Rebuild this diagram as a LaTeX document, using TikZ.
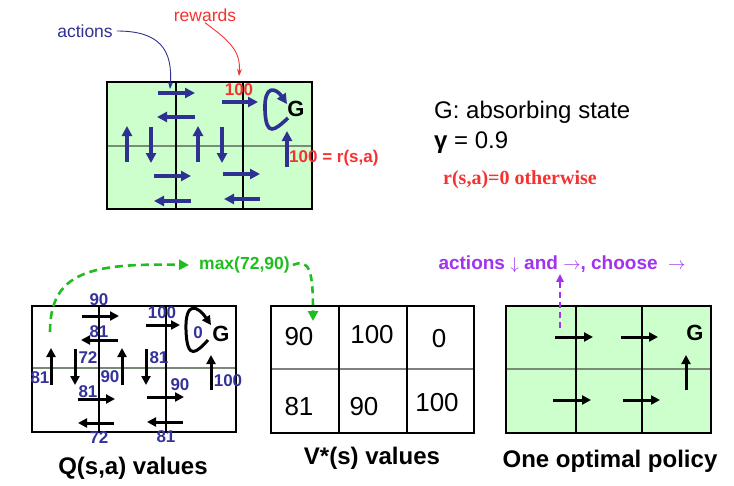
\documentclass[tikz,border=0pt]{standalone}
\usepackage{fontspec}
\setmainfont{Liberation Sans}
\newfontfamily\serifbf{Liberation Serif}
\usetikzlibrary{arrows.meta}
\definecolor{cellgreen}{RGB}{204,255,204}
\definecolor{actblue}{RGB}{46,49,146}
\definecolor{qblue}{RGB}{51,51,153}
\definecolor{rewred}{RGB}{245,50,50}
\definecolor{maxgreen}{RGB}{30,190,30}
\definecolor{actpurple}{RGB}{160,50,240}
\definecolor{midline}{RGB}{120,140,120}
\tikzset{
  fs/.style={font=\fontsize{#1}{#1}\selectfont},
  fsb/.style={font=\fontsize{#1}{#1}\selectfont\bfseries},
  barrow/.style={draw=actblue,line width=3.6pt,-{Triangle[length=10pt,width=10pt]}},
  karrow/.style={draw=black,line width=3pt,-{Triangle[length=9pt,width=9pt]}},
  gridline/.style={draw=black,line width=1.2pt},
  qlab/.style={fsb=17,text=qblue,inner sep=0pt},
  vval/.style={fs=26,inner sep=0pt},
  title/.style={fsb=24,inner sep=0pt},
}
\begin{document}
\begin{tikzpicture}[x=1pt,y=-1pt]
\useasboundingbox (0,0) rectangle (734,485);

% ---------- top grid ----------
\fill[cellgreen] (107,82) rectangle (312,209);
\draw[midline,line width=1.2pt] (107,146) -- (312,146);
\draw[gridline] (107,82) rectangle (312,209);
\draw[gridline] (176,82) -- (176,209) (243,82) -- (243,209);
\draw[barrow] (158,93) -- (195,93);
\draw[barrow] (195,117) -- (157,117);
\draw[barrow] (222,102) -- (258,102);
\draw[barrow] (127,162) -- (127,126);
\draw[barrow] (151,127) -- (151,163);
\draw[barrow] (198,162) -- (198,126);
\draw[barrow] (222,127) -- (222,163);
\draw[barrow] (287,167) -- (287,131);
\draw[barrow] (154,176) -- (191,176);
\draw[barrow] (223,174) -- (260,174);
\draw[barrow] (191,201) -- (154,201);
\draw[barrow] (260,199) -- (224,199);
\draw[barrow] (288,118) .. controls (275,130) and (266,138) .. (265,110)
  .. controls (264,84) and (276,88) .. (287,104);
\node[fsb=22,inner sep=0pt] (G1) at (296,109) {G};
\node[fsb=17,text=rewred,inner sep=0pt] (r100) at (239,90) {100};
\node[fsb=17,text=rewred,inner sep=0pt,anchor=west] (rsa) at (289,158) {100 = r(s,a)};

\node[fs=17.5,text=actblue,inner sep=1pt] (actions) at (85,31) {actions};
\coordinate (acttip) at (170,89);
\draw[actblue,line width=0.9pt,-{Stealth[length=7pt,width=5pt]}]
  ([xshift=3pt]actions.east) .. controls (160,31) and (173,50) .. (acttip);
\node[fs=17.5,text=rewred,inner sep=1pt] (rewards) at (205,15) {rewards};
\coordinate (rewtip) at (239,76);
\draw[rewred,line width=0.9pt,-{Stealth[length=7pt,width=5pt]}]
  (rewards.south) .. controls (228,40) and (241,50) .. (rewtip);

% ---------- right texts ----------
\node[fs=24,anchor=west,inner sep=0pt] (absorb) at (434,112) {G: absorbing state};
\node[fs=24,anchor=west,inner sep=0pt] (gamma) at (434,143) {\textbf{γ} = 0.9};
\node[font=\fontsize{20}{20}\selectfont\serifbf\bfseries,text=rewred,anchor=west,inner sep=0pt] (other) at (443,180) {r(s,a)=0 otherwise};

% ---------- Q grid ----------
\draw[midline!70!gray,line width=1.2pt] (32,368) -- (236,368);
\draw[gridline] (32,306) rectangle (236,432);
\draw[gridline] (99,306) -- (99,432) (166,306) -- (166,432);
\draw[karrow] (82,316) -- (119,316);
\draw[karrow] (118,340) -- (81,340);
\draw[karrow] (146,325) -- (180,325);
\draw[karrow] (51,385) -- (51,348);
\draw[karrow] (75,349) -- (75,385);
\draw[karrow] (122,385) -- (122,348);
\draw[karrow] (146,349) -- (146,385);
\draw[karrow] (211,390) -- (211,355);
\draw[karrow] (78,399) -- (115,399);
\draw[karrow] (147,397) -- (184,397);
\draw[karrow] (114,423) -- (78,423);
\draw[karrow] (183,422) -- (147,422);
\draw[karrow] (208,340) .. controls (197,352) and (187,362) .. (186,330)
  .. controls (185,300) and (198,306) .. (211,325);
\node[fsb=22,inner sep=0pt] (G2) at (221,334) {G};
\node[qlab] (q0) at (198,333) {0};
\node[qlab] (q90a) at (99,300) {90};
\node[qlab] (q81a) at (99,332) {81};
\node[qlab] (q100a) at (162,313) {100};
\node[qlab] (q81b) at (40,378) {81};
\node[qlab] (q72a) at (88,358) {72};
\node[qlab] (q90b) at (110,377) {90};
\node[qlab] (q81c) at (159,358) {81};
\node[qlab] (q100b) at (228,381) {100};
\node[qlab] (q81d) at (88,392) {81};
\node[qlab] (q90c) at (180,385) {90};
\node[qlab] (q72b) at (99,438) {72};
\node[qlab] (q81e) at (166,437) {81};
\node[title] (qt) at (133,468) {Q(s,a) values};

% ---------- max annotation ----------
\coordinate (qstart) at (50,332);
\node[fsb=17.5,text=maxgreen,inner sep=1pt,anchor=west] (max) at (198,265) {max(72,90)};
\coordinate (vtip) at (313,321);
\draw[maxgreen,line width=2.6pt,dash pattern=on 8pt off 5pt,-{Triangle[length=10pt,width=10pt]}]
  (qstart) .. controls (50,272) and (90,263) .. ([xshift=-9pt]max.west);
\draw[maxgreen,line width=2.6pt,dash pattern=on 7pt off 5pt,-{Triangle[length=10pt,width=10pt]}]
  ([xshift=2pt]max.east) .. controls (310,258) and (313,272) .. (vtip);

% ---------- V grid ----------
\draw[gray,line width=1.2pt] (271,369) -- (474,369);
\draw[gridline] (271,306) rectangle (474,433);
\draw[gridline] (339,306) -- (339,433) (407,306) -- (407,433);
\node[vval] (v1) at (299,337) {90};
\node[vval] (v2) at (372,335) {100};
\node[vval] (v3) at (439,339) {0};
\node[vval] (v4) at (299,407) {81};
\node[vval] (v5) at (364,407) {90};
\node[vval] (v6) at (437,403) {100};
\node[title] (vt) at (372,458) {V*(s) values};

% ---------- policy grid ----------
\fill[cellgreen] (506,306) rectangle (711,433);
\draw[midline,line width=1.2pt] (506,369) -- (711,369);
\draw[gridline] (506,306) rectangle (711,433);
\draw[gridline] (576,306) -- (576,433) (642,306) -- (642,433);
\draw[karrow] (555,337) -- (593,337);
\draw[karrow] (621,337) -- (658,337);
\draw[karrow] (553,400) -- (591,400);
\draw[karrow] (623,400) -- (660,400);
\draw[karrow] (686,390) -- (686,355);
\node[fsb=22,inner sep=0pt] (G3) at (695,333) {G};
\node[title] (pt) at (610,461) {One optimal policy};

\node[fsb=19,text=actpurple,inner sep=1pt] (choose) at (562,264)
  {actions $\downarrow$ and $\rightarrow$, choose \ $\rightarrow$};
\coordinate (pstart) at (560,328);
\draw[actpurple,line width=2.2pt,dash pattern=on 6pt off 4pt,-{Triangle[length=8pt,width=7pt]}]
  (pstart) -- (pstart |- choose.south);
\end{tikzpicture}
\end{document}
